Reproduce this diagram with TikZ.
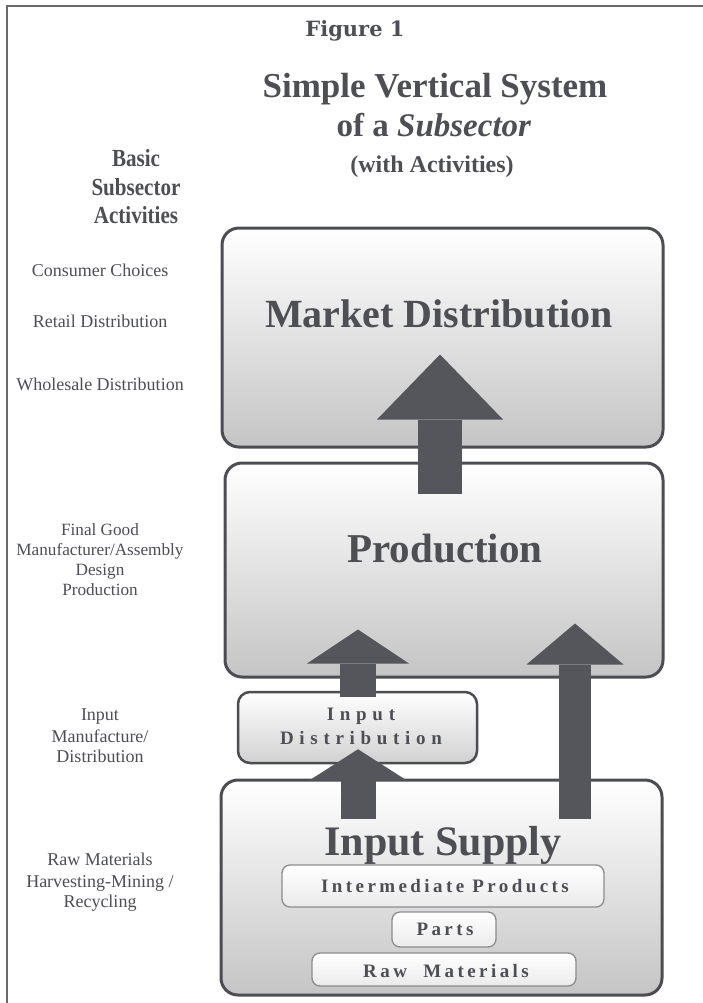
\documentclass[tikz,border=0pt]{standalone}
\usepackage{fontspec}
\setmainfont{Liberation Serif}
\newfontfamily\figfont{DejaVu Serif}
\newfontfamily\spacedwide[LetterSpace=30]{Liberation Serif}
\newfontfamily\spacednarrow[LetterSpace=18]{Liberation Serif}
\usetikzlibrary{arrows.meta,calc}
\definecolor{ink}{HTML}{4E4F54}
\definecolor{arrowgray}{HTML}{55565B}
\definecolor{boxline}{HTML}{4C4D52}
\definecolor{innerline}{HTML}{8C8C90}
\definecolor{framegray}{HTML}{6A6A6E}
\newcommand{\narrowtxt}[1]{\scalebox{0.86}[1]{#1}}
\begin{document}
\begin{tikzpicture}[x=1pt,y=-1pt,
  bigbox/.style={draw=boxline, line width=3pt, rounded corners=17pt, top color=white, bottom color=black!23, inner sep=0pt},
  midbox/.style={draw=boxline, line width=2.5pt, rounded corners=12pt, top color=white, bottom color=black!18, inner sep=0pt},
  smallbox/.style={draw=innerline, line width=1.3pt, rounded corners=8pt, top color=white, bottom color=black!8, inner sep=0pt},
  blockarrow/.style n args={3}{draw=arrowgray, line width=#1, -{Triangle[length=#2,width=#3,line width=0pt]}},
  lbl/.style={text=ink, inner sep=0pt, anchor=base, font=\fontsize{18}{20}\selectfont},
  lblsm/.style={text=ink, inner sep=0pt, anchor=base, font=\fontsize{17.2}{20}\selectfont},
  headlbl/.style={text=ink, inner sep=0pt, anchor=base, font=\bfseries\fontsize{24.5}{28}\selectfont},
  boxlbl/.style={text=ink, inner sep=0pt, anchor=base, font=\bfseries\fontsize{#1}{#1}\selectfont},
  widelbl/.style={text=ink, inner sep=0pt, anchor=base, font=\spacedwide\bfseries\fontsize{#1}{#1}\selectfont},
  narrowlbl/.style={text=ink, inner sep=0pt, anchor=base, font=\spacednarrow\bfseries\fontsize{#1}{#1}\selectfont},
]
\useasboundingbox (0,0) rectangle (703,1003);
\fill[white] (0,0) rectangle (703,1003);
% frame
\draw[framegray, line width=2pt] (7,1003) -- (7,6) -- (703,6);

% titles
\node[text=ink, inner sep=0pt, anchor=base, font=\figfont\bfseries\fontsize{21}{21}\selectfont] (fig) at (355,37) {Figure 1};
\node[boxlbl=35] (t1) at (435,98) {Simple Vertical System};
\node[boxlbl=33] (t2) at (434,137) {of a \textit{Subsector}};
\node[boxlbl=24] (t3) at (432,173) {(with Activities)};

% left column heading
\node[headlbl] (h1) at (136,167) {\narrowtxt{Basic}};
\node[headlbl] (h2) at (136,195) {\narrowtxt{Subsector}};
\node[headlbl] (h3) at (136,223) {\narrowtxt{Activities}};

% left labels
\node[lbl] (l1) at (100,276) {Consumer Choices};
\node[lbl] (l2) at (100,327) {Retail Distribution};
\node[lbl] (l3) at (100,390) {Wholesale Distribution};
\node[lblsm] (l4) at (100,535) {Final Good};
\node[lblsm] (l5) at (100,555) {Manufacturer/Assembly};
\node[lblsm] (l6) at (100,575) {Design};
\node[lblsm] (l7) at (100,595) {Production};
\node[lbl] (l8) at (100,720) {Input};
\node[lbl] (l9) at (100,742) {Manufacture/};
\node[lbl] (l10) at (100,762) {Distribution};
\node[lbl] (l11) at (100,865) {Raw Materials};
\node[lbl] (l12) at (100,887) {Harvesting-Mining /};
\node[lbl] (l13) at (100,907) {Recycling};

% boxes
\node[bigbox, minimum width=441pt, minimum height=219pt] (market) at (442.5,337.5) {};
\node[bigbox, minimum width=438pt, minimum height=214pt] (prod) at (444,570) {};
\node[bigbox, minimum width=441pt, minimum height=215pt] (supply) at (441.5,887.5) {};
\node[midbox, minimum width=239pt, minimum height=71pt] (indist) at (357.5,727.5) {};
\node[smallbox, minimum width=322pt, minimum height=42pt] (inter) at (443,886) {};
\node[smallbox, minimum width=104pt, minimum height=35pt] (parts) at (444,929.5) {};
\node[smallbox, minimum width=264pt, minimum height=33pt] (raw) at (444,969.5) {};

% arrow end points
\coordinate (a1s) at ($(prod.north)+(-4,32)$);
\coordinate (a1e) at ($(market.south)+(-2.5,-94)$);
\coordinate (a2s) at ($(indist.north)+(0.5,6)$);
\coordinate (a2e) at ($(prod.south)+(-86,-49)$);
\coordinate (a3s) at ($(supply.north)+(133.5,40)$);
\coordinate (a3e) at ($(prod.south)+(131,-55)$);
\coordinate (a4s) at ($(supply.north)+(-83.5,40)$);
\coordinate (a4e) at ($(indist.south)+(0.5,-15)$);

\draw[blockarrow={44pt}{65pt}{126pt}] (a1s) -- (a1e);
\draw[blockarrow={36pt}{34pt}{102pt}] (a2s) -- (a2e);
\draw[blockarrow={32pt}{41pt}{97pt}] (a3s) -- (a3e);
\draw[blockarrow={35pt}{31pt}{97pt}] (a4s) -- (a4e);

% box labels
\node[boxlbl=40] (marketlbl) at (439,327) {Market Distribution};
\node[boxlbl=41] (prodlbl) at (445,562) {Production};
\node[boxlbl=42] (supplylbl) at (443,855) {Input Supply};
\node[widelbl=19] (indl1) at (361,720) {Input};
\node[widelbl=19] (indl2) at (361,744) {Distribution};
\node[narrowlbl=19] (interlbl) at (445,892) {Intermediate Products};
\node[narrowlbl=19] (partslbl) at (445,935) {Parts};
\node[narrowlbl=19] (rawlbl) at (446,977) {Raw\ \ Materials};
\end{tikzpicture}
\end{document}
